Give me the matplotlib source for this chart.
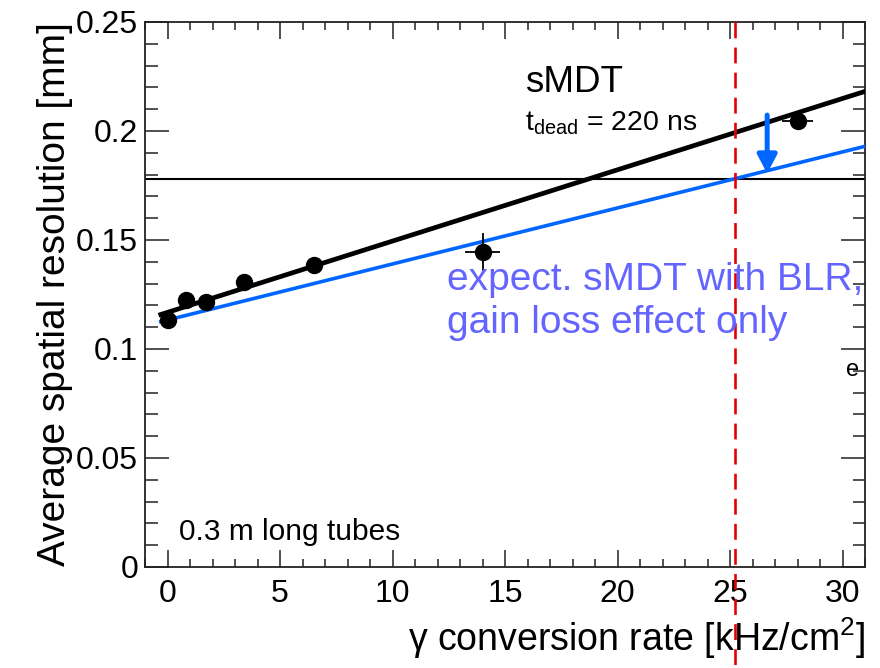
import numpy as np
import matplotlib
matplotlib.use("Agg")
import matplotlib.pyplot as plt
from matplotlib.ticker import MultipleLocator
import matplotlib.transforms as mtransforms

# ---------------- DATA ----------------
rate = [0.0, 0.8, 1.7, 3.4, 6.5, 14.0, 28.0]          # kHz/cm2
resolution = [0.1135, 0.1225, 0.1215, 0.1308, 0.1385, 0.1446, 0.2045]  # mm
rate_err = [0.1, 0.1, 0.1, 0.2, 0.3, 0.78, 0.7]
res_err = [0.002, 0.002, 0.002, 0.002, 0.002, 0.0087, 0.002]

# linear fits (intercept, slope)
fit_meas = (0.1168, 0.00327)        # measured sMDT
fit_blr = (0.1133, 0.00257)         # expected sMDT with BLR
fit_range = [-0.3, 31.0]

resolution_limit = 0.178
design_rate = 25.2
arrow_rate = 26.65
arrow_from = 0.2073
arrow_to = 0.1805

# --------------- STYLE ----------------
plt.rcParams["font.family"] = ["Liberation Sans", "DejaVu Sans"]
plt.rcParams["mathtext.fontset"] = "custom"
plt.rcParams["mathtext.rm"] = "Liberation Sans"

BLUE = "#0066ff"
TEXT_BLUE = "#6464ff"
RED = "#e60000"

fig = plt.figure(figsize=(8.8, 6.68), dpi=100)
ax = fig.add_axes([0.1648, 0.1512, 0.8182, 0.8159])

# --------------- PLOT -----------------
xs = np.array(fit_range)
ax.plot(xs, fit_blr[0] + fit_blr[1] * xs, color=BLUE, lw=2.6, zorder=3)
ax.plot(xs, fit_meas[0] + fit_meas[1] * xs, color="black", lw=3.4, zorder=4)

ax.errorbar(rate, resolution, xerr=rate_err, yerr=res_err, fmt="o",
            color="black", ms=11.5, elinewidth=1.3, capsize=0, zorder=5)

ax.axhline(resolution_limit, color="black", lw=1.5, zorder=2)

# red dashed line runs from the top of the frame down to the bottom of the figure
trans = mtransforms.blended_transform_factory(ax.transData, ax.transAxes)
ax.plot([design_rate, design_rate], [1.0, -0.19], transform=trans, color=RED,
        lw=1.9, dashes=(6.0, 3.5), clip_on=False, zorder=6)

ax.annotate("", xy=(arrow_rate, arrow_to), xytext=(arrow_rate, arrow_from),
            arrowprops=dict(arrowstyle="-|>,head_length=1.1,head_width=0.58",
                            color=BLUE, lw=3.6, shrinkA=0, shrinkB=0,
                            mutation_scale=10), zorder=7)

# --------------- TEXT -----------------
ax.text(15.9, 0.218, "sMDT", fontsize=26.5, va="baseline")
ax.text(15.9, 0.2, r"$\mathregular{t_{dead}}$ = 220 ns", fontsize=20.5, va="baseline")
ax.text(12.4, 0.127, "expect. sMDT with BLR,", fontsize=28, color=TEXT_BLUE,
        va="baseline", clip_on=False, zorder=8)
ax.text(12.4, 0.1073, "gain loss effect only", fontsize=28, color=TEXT_BLUE,
        va="baseline", zorder=8)
ax.text(0.53, 0.0124, "0.3 m long tubes", fontsize=21.5, va="baseline")
# leftover glyph, half hidden behind the frame
ax.text(30.15, 0.0875, "e", fontsize=17, va="baseline", clip_on=True)

# --------------- AXES -----------------
ax.set_xlim(-1, 31)
ax.set_ylim(0, 0.25)
ax.xaxis.set_major_locator(MultipleLocator(5))
ax.xaxis.set_minor_locator(MultipleLocator(1))
ax.yaxis.set_major_locator(MultipleLocator(0.05))
ax.yaxis.set_minor_locator(MultipleLocator(0.01))
ax.set_yticks([0, 0.05, 0.1, 0.15, 0.2, 0.25])
ax.set_yticklabels(["0", "0.05", "0.1", "0.15", "0.2", "0.25"])

ax.tick_params(axis="both", which="both", direction="in", top=True, right=True,
               width=1.1, color="#222222")
ax.tick_params(axis="x", which="major", length=12, pad=9, labelsize=23)
ax.tick_params(axis="x", which="minor", length=6)
ax.tick_params(axis="y", which="major", length=17, pad=5, labelsize=23)
ax.tick_params(axis="y", which="minor", length=9)
for s in ax.spines.values():
    s.set_linewidth(1.3)
    s.set_color("#222222")

ax.set_xlabel("γ conversion rate [kHz/cm$\\mathregular{^2}$]", fontsize=27,
              loc="right", labelpad=4)
ax.set_ylabel("Average spatial resolution [mm]", fontsize=28, labelpad=2)

fig.savefig("out.png", dpi=100)
